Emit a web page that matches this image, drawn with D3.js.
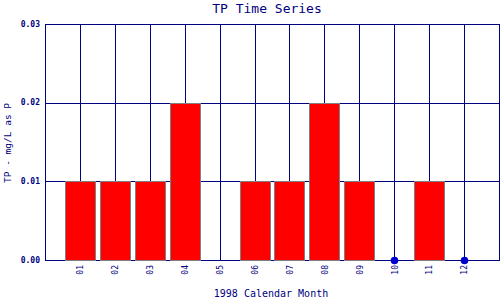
<!DOCTYPE html>
<meta charset="utf-8" />
<script src="https://d3js.org/d3.v7.min.js"></script>
<style>
  body { margin: 0; background: #fff; }
  text { font-family: "DejaVu Sans Mono", monospace; fill: #000080; }
</style>
<body>
<div id="chart"></div>
<script>
  // data
  var months = ["01", "02", "03", "04", "05", "06", "07", "08", "09", "10", "11", "12"];
  var values = [0.01, 0.01, 0.01, 0.02, null, 0.01, 0.01, 0.02, 0.01, 0, 0.01, 0];
  var yTicks = [0, 0.01, 0.02, 0.03];

  var W = 500, H = 300;
  var plotLeft = 45, plotRight = 499, plotTop = 24, plotBottom = 260;

  var svg = d3.select("#chart").append("svg")
    .attr("width", W).attr("height", H);

  var x = d3.scaleLinear().domain([0, months.length + 1]).range([plotLeft, plotRight]);
  var y = d3.scaleLinear().domain([0, 0.03]).range([plotBottom, plotTop]);

  var navy = "#000080";
  var rows = months.map(function(m, i) { return { m: m, i: i, v: values[i] }; });

  // vertical grid lines at each month
  svg.append("g").selectAll("line")
    .data(rows)
    .enter().append("line")
    .attr("x1", function(d) { return Math.round(x(d.i + 1)) + 0.5; })
    .attr("x2", function(d) { return Math.round(x(d.i + 1)) + 0.5; })
    .attr("y1", plotTop).attr("y2", plotBottom)
    .attr("stroke", navy).attr("stroke-width", 1);

  // horizontal grid lines
  svg.append("g").selectAll("line")
    .data(yTicks)
    .enter().append("line")
    .attr("x1", plotLeft).attr("x2", plotRight + 1)
    .attr("y1", function(d) { return Math.round(y(d)) + 0.5; })
    .attr("y2", function(d) { return Math.round(y(d)) + 0.5; })
    .attr("stroke", navy).attr("stroke-width", 1);

  // frame sides
  [plotLeft, plotRight].forEach(function(px) {
    svg.append("line")
      .attr("x1", px + 0.5).attr("x2", px + 0.5)
      .attr("y1", plotTop).attr("y2", plotBottom + 1)
      .attr("stroke", navy);
  });

  // bars
  var barW = 30;
  svg.append("g").selectAll("rect")
    .data(rows.filter(function(d) { return d.v; }))
    .enter().append("rect")
    .attr("x", function(d) { return Math.round(x(d.i + 1) - barW / 2) + 0.5; })
    .attr("y", function(d) { return Math.round(y(d.v)) + 0.5; })
    .attr("width", barW)
    .attr("height", function(d) { return Math.round(y(0)) - Math.round(y(d.v)); })
    .attr("fill", "#ff0000")
    .attr("stroke", "#808080")
    .attr("stroke-width", 1);

  // dots for zero values
  svg.append("g").selectAll("circle")
    .data(rows.filter(function(d) { return d.v === 0; }))
    .enter().append("circle")
    .attr("cx", function(d) { return Math.round(x(d.i + 1)) + 0.5; })
    .attr("cy", function(d) { return Math.round(y(0)) + 0.5; })
    .attr("r", 3.8)
    .attr("fill", "#0000cc");

  // y tick labels
  svg.append("g").selectAll("text")
    .data(yTicks)
    .enter().append("text")
    .attr("x", 40)
    .attr("y", function(d) { return y(d); })
    .attr("dy", "0.35em")
    .attr("text-anchor", "end")
    .style("font-size", "8px")
    .style("font-weight", "bold")
    .text(d3.format(".2f"));

  // x tick labels, rotated
  svg.append("g").selectAll("text")
    .data(rows)
    .enter().append("text")
    .attr("transform", function(d) {
      return "translate(" + (x(d.i + 1) + 0.5) + ",265) rotate(-90)";
    })
    .attr("dy", "0.35em")
    .attr("text-anchor", "end")
    .style("font-size", "8px")
    .text(function(d) { return d.m; });

  // title and axis labels
  svg.append("text")
    .attr("x", 267).attr("y", 13)
    .attr("text-anchor", "middle")
    .style("font-size", "13px")
    .text("TP Time Series");

  svg.append("text")
    .attr("x", 271).attr("y", 297)
    .attr("text-anchor", "middle")
    .style("font-size", "10px")
    .text("1998 Calendar Month");

  svg.append("text")
    .attr("transform", "translate(11,143) rotate(-90)")
    .attr("text-anchor", "middle")
    .style("font-size", "9.5px")
    .text("TP - mg/L as P");
</script>
</body>
